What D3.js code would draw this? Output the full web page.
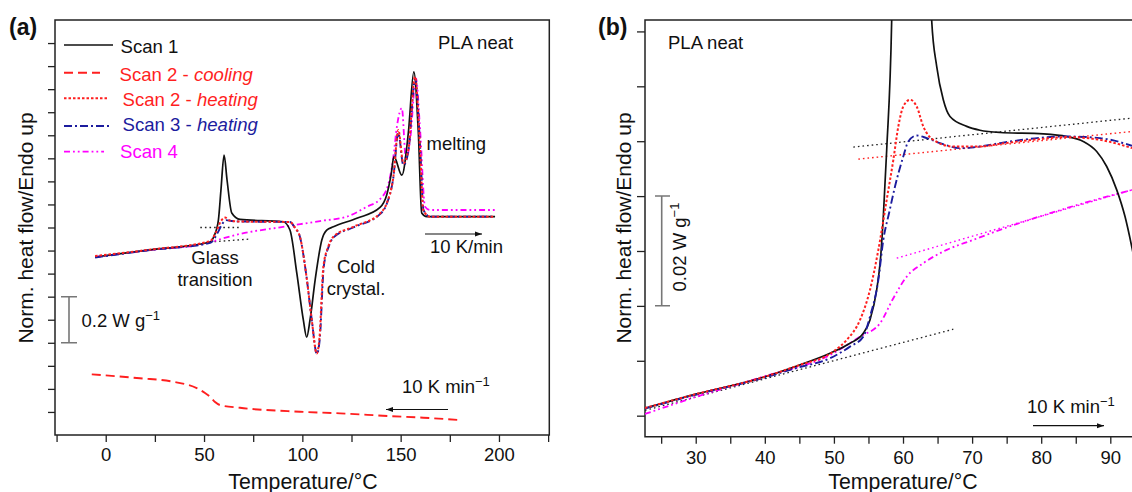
<!DOCTYPE html>
<html><head><meta charset="utf-8">
<script src="https://cdn.jsdelivr.net/npm/d3@7"></script>
<style>
body{margin:0;background:#fff;}
svg{font-family:"Liberation Sans",Arial,Helvetica,sans-serif;}
</style></head>
<body><svg id="c" width="1132" height="492"></svg>
<script>
// ---------- DATA: panel (a)  [temperature °C, normalised heat flow W/g (offset)] ----------
const a_scan1 = [[-5.4,0.772],[22.5,0.803],[53.1,0.837],[55.1,0.863],[57.3,0.932],[58.6,1.062],[60.2,1.214],[61.7,1.106],[64.1,0.963],[68.3,0.935],[90.2,0.925],[93.7,0.889],[97.2,0.701],[100.5,0.499],[102.2,0.424],[103.9,0.499],[106.5,0.672],[109.9,0.846],[112.4,0.889],[115.8,0.903],[127.7,0.940],[139.5,0.987],[142.9,1.041],[145.1,1.127],[146.6,1.207],[150.6,1.127],[153.9,1.310],[156.7,1.575],[159.0,1.310],[160.7,0.963],[163.3,0.947],[198.0,0.947]];
const a_scan2cool = [[-7.1,0.263],[17.4,0.246],[34.4,0.231],[46.3,0.203],[50.5,0.182],[53.1,0.166],[55.6,0.143],[58.1,0.130],[68.3,0.118],[98.8,0.101],[119.2,0.094],[144.6,0.082],[161.5,0.075],[180.2,0.065]];
const a_scan2heat = [[-5.4,0.776],[22.5,0.804],[53.1,0.841],[56.1,0.880],[58.6,0.928],[60.7,0.943],[63.2,0.930],[68.3,0.926],[93.7,0.924],[96.3,0.898],[98.8,0.859],[102.2,0.681],[104.8,0.499],[107.3,0.354],[108.7,0.420],[110.7,0.730],[113.2,0.817],[115.8,0.860],[125.9,0.903],[139.5,0.961],[142.9,1.005],[146.3,1.120],[148.8,1.323],[151.4,1.178],[153.9,1.236],[157.3,1.554],[159.9,1.236],[161.5,0.976],[165.0,0.947],[198.0,0.947]];
const a_scan3heat = [[-5.4,0.770],[22.5,0.802],[53.1,0.833],[57.1,0.880],[59.2,0.915],[61.2,0.932],[64.0,0.928],[68.3,0.926],[93.7,0.924],[96.3,0.898],[98.8,0.859],[102.2,0.681],[104.8,0.499],[107.4,0.352],[108.9,0.420],[110.9,0.730],[113.4,0.817],[116.0,0.858],[125.9,0.900],[139.5,0.958],[142.9,1.002],[146.3,1.118],[148.8,1.310],[151.4,1.170],[153.9,1.230],[157.4,1.545],[160.0,1.236],[161.6,0.976],[165.0,0.947],[198.0,0.947]];
const a_scan4 = [[-5.4,0.772],[22.5,0.802],[52.0,0.833],[58.1,0.849],[68.3,0.872],[88.7,0.901],[109.0,0.928],[122.6,0.947],[132.8,0.990],[139.5,1.023],[143.6,1.084],[146.1,1.193],[148.2,1.344],[150.6,1.418],[152.7,1.193],[154.8,1.279],[157.8,1.547],[159.9,1.323],[162.4,0.990],[165.0,0.976],[199.0,0.976]];
const a_base1 = [[48.1,0.900],[68.3,0.900]];
const a_base2 = [[53.0,0.837],[73.5,0.850]];
const a_xTicks = [-25,0,25,50,75,100,125,150,175,200,225];
const a_xLabels = [0,50,100,150,200];
const a_yTicks = [0.1,0.2,0.3,0.4,0.5,0.6,0.7,0.8,0.9,1.0,1.1,1.2,1.3,1.4,1.5,1.6,1.7];

// ---------- DATA: panel (b) ----------
const b_scan1 = [[22.66,0.00135],[30.14,0.00396],[39.78,0.00700],[44.62,0.00906],[49.44,0.01137],[52.33,0.01320],[54.25,0.01502],[55.22,0.01744],[56.19,0.02291],[56.77,0.02898],[57.15,0.03627],[57.64,0.04843],[58.36,0.0720],[58.55,0.0850],[61.0,0.1200],[63.9,0.0850],[64.15,0.0720],[64.88,0.0636],[65.83,0.05755],[66.80,0.0545],[69.22,0.0527],[71.14,0.0520],[74.04,0.05159],[80.30,0.05135],[83.69,0.05086],[86.09,0.04995],[88.03,0.04812],[89.48,0.04539],[90.93,0.04114],[92.13,0.03627],[93.10,0.03081],[94.3,0.0229]];
const b_scan2heat = [[22.66,0.0014],[30.14,0.00396],[39.78,0.00700],[44.62,0.00906],[49.91,0.01167],[51.85,0.01380],[53.78,0.01744],[55.22,0.02291],[56.43,0.03020],[57.64,0.03932],[58.60,0.04661],[59.32,0.05268],[60.04,0.05633],[61.01,0.05755],[61.98,0.05633],[62.94,0.05268],[64.38,0.05025],[67.28,0.04903],[71.14,0.04903],[74.04,0.04953],[78.86,0.05025],[83.69,0.05075],[88.51,0.05025],[93.14,0.04874]];
const b_scan3heat = [[22.66,0.00131],[30.14,0.00386],[39.78,0.00687],[44.62,0.00870],[49.44,0.01046],[52.33,0.01258],[54.25,0.01440],[55.22,0.01805],[56.43,0.02474],[57.15,0.03203],[58.00,0.03700],[58.84,0.04174],[60.04,0.04721],[60.77,0.04995],[61.98,0.05104],[63.43,0.05057],[65.35,0.04966],[68.25,0.04874],[71.14,0.04903],[74.04,0.04966],[83.69,0.05086],[88.51,0.05057],[93.14,0.04916]];
const b_scan4 = [[22.66,0.00031],[30.14,0.00346],[39.78,0.00711],[49.44,0.01106],[53.78,0.01440],[56.67,0.01684],[58.60,0.02140],[60.54,0.02534],[62.94,0.02778],[66.32,0.03020],[70.17,0.03203],[74.04,0.03385],[83.69,0.03781],[93.14,0.04114]];
const b_baseBlackLow = [[22.66,0.00097],[67.28,0.01575]];
const b_baseBlackHigh = [[52.81,0.04893],[93.14,0.05421]];
const b_baseRed = [[53.53,0.04674],[93.14,0.05177]];
const b_baseMagenta = [[59.09,0.02869],[93.14,0.04114]];
const b_xTicks = [25,30,35,40,45,50,55,60,65,70,75,80,85,90];
const b_xLabels = [30,40,50,60,70,80,90];
const b_yTicks = [0,0.01,0.02,0.03,0.04,0.05,0.06,0.07];

// legend
const legendNames = ["Scan 1","Scan 2 - ","Scan 2 - ","Scan 3 - ","Scan 4"];
const legendItalic = ["","cooling","heating","heating",""];

// ---------- STYLES ----------
const RED="#ff1f1f", BLUE="#1c1c9e", MAG="#ff00ff", BLK="#111";
const st = {
  scan1:{stroke:BLK,w:1.7,dash:null},
  cool:{stroke:RED,w:1.9,dash:"9,5"},
  heat2:{stroke:RED,w:2,dash:"2.5,2"},
  heat3:{stroke:BLUE,w:1.9,dash:"8,3,2,3"},
  scan4:{stroke:MAG,w:1.8,dash:"6,3,1.8,3,1.8,3"},
  baseK:{stroke:"#222",w:1.3,dash:"1.6,3"},
  baseR:{stroke:RED,w:1.4,dash:"1.6,3"},
  baseM:{stroke:MAG,w:1.4,dash:"1.6,3"}
};

const svg = d3.select("#c");
const defs = svg.append("defs");
defs.append("marker").attr("id","ah").attr("viewBox","0 0 10 10").attr("refX",10).attr("refY",5)
  .attr("markerWidth",7).attr("markerHeight",7).attr("markerUnits","userSpaceOnUse").attr("orient","auto")
  .append("path").attr("d","M0,1.5 L10,5 L0,8.5 Z").attr("fill","#111");

function drawLine(g, x, y, data, s, curve){
  g.append("path").datum(data)
    .attr("d", d3.line().x(d=>x(d[0])).y(d=>y(d[1])).curve(curve||d3.curveMonotoneX))
    .attr("fill","none").attr("stroke",s.stroke).attr("stroke-width",s.w)
    .attr("stroke-dasharray",s.dash).attr("stroke-linejoin","round");
}

// ================= PANEL A =================
const A = {l:55, r:549.3, t:20, b:435};
const xA = d3.scaleLinear().domain([-25.8,225.6]).range([A.l,A.r]);
const yA = d3.scaleLinear().domain([0,1.8]).range([A.b,A.t]);
defs.append("clipPath").attr("id","clipA").append("rect").attr("x",A.l).attr("y",A.t).attr("width",A.r-A.l).attr("height",A.b-A.t);

const gAx = svg.append("g").attr("transform",`translate(0,${A.b})`)
  .call(d3.axisBottom(xA).tickValues(a_xTicks).tickSize(7).tickSizeOuter(0).tickPadding(6)
  .tickFormat(d=>a_xLabels.includes(d)?d:""));
const gAy = svg.append("g").attr("transform",`translate(${A.l},0)`)
  .call(d3.axisLeft(yA).tickValues(a_yTicks).tickSize(7).tickSizeOuter(0).tickFormat(""));
[gAx,gAy].forEach(g=>{g.select(".domain").remove();g.selectAll("line").attr("stroke","#222").attr("stroke-width",1.3);
  g.selectAll("text").attr("font-size",18.5).attr("fill","#111").attr("font-family","Liberation Sans,Arial,sans-serif");});
svg.append("rect").attr("x",A.l).attr("y",A.t).attr("width",A.r-A.l).attr("height",A.b-A.t)
  .attr("fill","none").attr("stroke","#222").attr("stroke-width",1.5);

const pA = svg.append("g").attr("clip-path","url(#clipA)");
drawLine(pA,xA,yA,a_base1,st.baseK,d3.curveLinear);
drawLine(pA,xA,yA,a_base2,st.baseK,d3.curveLinear);
drawLine(pA,xA,yA,a_scan2cool,st.cool);
drawLine(pA,xA,yA,a_scan4,st.scan4);
drawLine(pA,xA,yA,a_scan1,st.scan1);
drawLine(pA,xA,yA,a_scan3heat,st.heat3);
drawLine(pA,xA,yA,a_scan2heat,st.heat2);

// legend
const legStyles=[st.scan1,st.cool,st.heat2,st.heat3,st.scan4];
const legColors=[BLK,RED,RED,BLUE,MAG];
const legLineY=[45,72.7,98.3,126,151.7], legLineX2=[113,100,107,109,104];
const legTextX=[120.5,119.5,122.5,122.5,120], legTextY=[52.5,81,106,131,158];
legendNames.forEach((n,i)=>{
  svg.append("line").attr("x1",64).attr("x2",legLineX2[i]).attr("y1",legLineY[i]).attr("y2",legLineY[i])
    .attr("stroke",legStyles[i].stroke).attr("stroke-width",legStyles[i].w).attr("stroke-dasharray",legStyles[i].dash);
  const t=svg.append("text").attr("x",legTextX[i]).attr("y",legTextY[i]).attr("font-size",18.6).attr("fill",legColors[i]);
  t.append("tspan").text(n);
  if(legendItalic[i]) t.append("tspan").attr("font-style","italic").text(legendItalic[i]);
});

function txt(x,y,s,opt={}){
  return svg.append("text").attr("x",x).attr("y",y).attr("font-size",opt.size||18.5)
    .attr("fill",opt.fill||"#111").attr("text-anchor",opt.anchor||"start")
    .attr("font-weight",opt.weight||"normal").text(s);
}
function supText(x,y,base,sup,opt={}){
  const t=svg.append("text").attr("x",x).attr("y",y).attr("font-size",opt.size||18.5).attr("fill","#111");
  if(opt.rotate) t.attr("transform",`rotate(-90,${x},${y})`).attr("text-anchor","middle");
  t.append("tspan").text(base);
  t.append("tspan").attr("dy",-7).attr("font-size",13).text(sup);
  return t;
}
txt(9,35,"(a)",{size:23,weight:"bold"});
txt(438,49,"PLA neat");
txt(215,263.5,"Glass",{anchor:"middle"});
txt(215,285.5,"transition",{anchor:"middle"});
txt(356,273,"Cold",{anchor:"middle"});
txt(356,295,"crystal.",{anchor:"middle"});
txt(426.5,150,"melting");
txt(430,253,"10 K/min");
svg.append("line").attr("x1",425).attr("x2",482).attr("y1",234).attr("y2",234).attr("stroke","#111").attr("stroke-width",1.2).attr("marker-end","url(#ah)");
supText(402,393,"10 K min","\u22121");
svg.append("line").attr("x1",448).attr("x2",386).attr("y1",409.5).attr("y2",409.5).attr("stroke","#111").attr("stroke-width",1.2).attr("marker-end","url(#ah)");
// scale bar a
svg.append("path").attr("d","M61,296.7H77M69,296.7V342.7M61,342.7H77").attr("stroke","#777").attr("stroke-width",1.6).attr("fill","none");
supText(81.5,327,"0.2 W g","\u22121");
// axis titles
txt(303,488.5,"Temperature/\u00B0C",{size:21.3,anchor:"middle"});
svg.append("text").attr("transform","translate(33,228) rotate(-90)").attr("text-anchor","middle")
  .attr("font-size",21).attr("fill","#111").text("Norm. heat flow/Endo up");

// ================= PANEL B =================
const B = {l:645, r:1132, t:20, b:436.7};
const xB = d3.scaleLinear().domain([22.66,93.14]).range([B.l,B.r]);
const yB = d3.scaleLinear().domain([-0.00383,0.07208]).range([B.b,B.t]);
defs.append("clipPath").attr("id","clipB").append("rect").attr("x",B.l).attr("y",B.t).attr("width",B.r-B.l+10).attr("height",B.b-B.t);

const gBx = svg.append("g").attr("transform",`translate(0,${B.b})`)
  .call(d3.axisBottom(xB).tickValues(b_xTicks).tickSize(7).tickSizeOuter(0).tickPadding(7)
  .tickFormat(d=>b_xLabels.includes(d)?d:""));
const gBy = svg.append("g").attr("transform",`translate(${B.l},0)`)
  .call(d3.axisLeft(yB).tickValues(b_yTicks).tickSize(8).tickSizeOuter(0).tickFormat(""));
[gBx,gBy].forEach(g=>{g.select(".domain").remove();g.selectAll("line").attr("stroke","#222").attr("stroke-width",1.3);
  g.selectAll("text").attr("font-size",18.5).attr("fill","#111").attr("font-family","Liberation Sans,Arial,sans-serif");});
svg.append("path").attr("d",`M${B.r+5},${B.t}H${B.l}V${B.b}H${B.r+5}`).attr("fill","none").attr("stroke","#222").attr("stroke-width",1.5);

const pB = svg.append("g").attr("clip-path","url(#clipB)");
drawLine(pB,xB,yB,b_baseBlackLow,st.baseK,d3.curveLinear);
drawLine(pB,xB,yB,b_baseBlackHigh,st.baseK,d3.curveLinear);
drawLine(pB,xB,yB,b_baseRed,st.baseR,d3.curveLinear);
drawLine(pB,xB,yB,b_baseMagenta,st.baseM,d3.curveLinear);
drawLine(pB,xB,yB,b_scan4,st.scan4);
drawLine(pB,xB,yB,b_scan1,st.scan1);
drawLine(pB,xB,yB,b_scan3heat,st.heat3);
drawLine(pB,xB,yB,b_scan2heat,st.heat2);

txt(598,35,"(b)",{size:23,weight:"bold"});
txt(668,49,"PLA neat");
supText(1027,413,"10 K min","\u22121");
svg.append("line").attr("x1",1033).attr("x2",1104).attr("y1",425.7).attr("y2",425.7).attr("stroke","#111").attr("stroke-width",1.2).attr("marker-end","url(#ah)");
svg.append("path").attr("d","M655,196H670M661.7,196V305.7M655,305.7H670").attr("stroke","#777").attr("stroke-width",1.6).attr("fill","none");
supText(686,247,"0.02 W g","\u22121",{rotate:true});
txt(903,488.5,"Temperature/\u00B0C",{size:21.3,anchor:"middle"});
svg.append("text").attr("transform","translate(631,228) rotate(-90)").attr("text-anchor","middle")
  .attr("font-size",21).attr("fill","#111").text("Norm. heat flow/Endo up");
</script></body></html>
